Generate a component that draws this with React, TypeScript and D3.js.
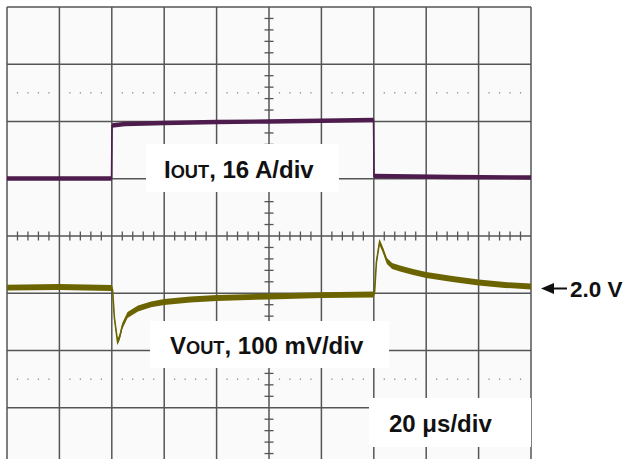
import React from "react";
import * as d3 from "d3";

// ---- data (time in µs, 20 µs/div) ----
const voutTime = [0, 20, 39.9, 40.3, 41, 42.2, 43, 44, 46, 50, 55, 60, 70, 80, 100, 120, 139.9, 140.3, 141, 142.2, 143.5, 145, 147, 150, 155, 160, 170, 180, 190, 200];
const voutVolts = [2.0017, 2.0026, 2.0009, 1.9974, 1.9485, 1.9066, 1.9153, 1.9345, 1.9537, 1.9651, 1.9721, 1.9764, 1.9808, 1.9834, 1.986, 1.9886, 1.9895, 1.9939, 2.0463, 2.0812, 2.0672, 2.048, 2.0393, 2.0349, 2.0288, 2.0236, 2.0166, 2.0105, 2.0061, 2.0035];

const ioutTime = [0, 39.9, 40.1, 45, 60, 80, 100, 120, 139.9, 140.1, 170, 200];
const ioutAmps = [16.07, 16.07, 30.88, 31.3, 31.58, 31.86, 32.0, 32.19, 32.42, 16.77, 16.49, 16.35];

const labelIout = { main: "I", sub: "OUT", rest: ", 16 A/div" };
const labelVout = { main: "V", sub: "OUT", rest: ", 100 mV/div" };
const labelTime = "20 μs/div";
const labelRef = "2.0 V";

const W = 626;
const H = 459;
const X0 = 7, X1 = 531, Y0 = 7, Y1 = 465;
const DIVX = (X1 - X0) / 10;
const DIVY = (Y1 - Y0) / 8;
const CX = X0 + 5 * DIVX;
const CY = Y0 + 4 * DIVY;

const refY = 288.5; // 2.0 V reference marker
const vTop = 2.0 + ((refY - Y0) / DIVY) * 0.1;
const vBot = 2.0 - ((Y1 - refY) / DIVY) * 0.1;

const x = d3.scaleLinear().domain([0, 200]).range([X0, X1]);
const yV = d3.scaleLinear().domain([vBot, vTop]).range([Y1, Y0]);
const yI = d3.scaleLinear().domain([-64, 64]).range([Y1, Y0]);

const FONT = "'Liberation Sans', Arial, Helvetica, sans-serif";
const GRID = "#555555";
const PURPLE = "#4e1d4e";
const OLIVE = "#6b6400";

function band(ts: number[], vs: number[], y: d3.ScaleLinear<number, number>, half: number) {
  const pts = ts.map((t, i) => [t, vs[i]] as [number, number]);
  const area = d3
    .area<[number, number]>()
    .x((d) => x(d[0]))
    .y0((d) => y(d[1]) - half)
    .y1((d) => y(d[1]) + half);
  const line = d3
    .line<[number, number]>()
    .x((d) => x(d[0]))
    .y((d) => y(d[1]));
  return { area: area(pts) || "", line: line(pts) || "" };
}

function Label({ lx, ly, size, l }: { lx: number; ly: number; size: number; l: { main: string; sub: string; rest: string } }) {
  return (
    <text x={lx} y={ly} fontFamily={FONT} fontWeight="bold" fontSize={size} fill="#111">
      {l.main}
      <tspan fontSize={size * 0.76}>{l.sub}</tspan>
      {l.rest}
    </text>
  );
}

export default function App() {
  const vt = band(voutTime, voutVolts, yV, 2.9);
  const it = band(ioutTime, ioutAmps, yI, 2.2);

  const vLines = d3.range(11).map((i) => X0 + i * DIVX);
  const hLines = d3.range(9).map((i) => Y0 + i * DIVY);
  const minorX = d3.range(51).map((i) => X0 + (i * DIVX) / 5).filter((_, i) => i % 5 !== 0);
  const minorY = d3.range(41).map((i) => Y0 + (i * DIVY) / 5).filter((_, i) => i % 5 !== 0);
  const dotRows = [CY - 2.5 * DIVY, CY + 2.5 * DIVY];

  const fs = 24;

  return (
    <svg width={W} height={H} style={{ position: "absolute", left: 0, top: 0, background: "#fff" }}>
      <rect x={X0} y={Y0} width={X1 - X0} height={Y1 - Y0} fill="#fafafa" />
      {/* dotted rows */}
      {dotRows.map((ry, r) =>
        minorX.map((mx, i) => <rect key={`d${r}-${i}`} x={mx - 0.6} y={ry - 0.6} width={1.2} height={1.2} fill="#777" />)
      )}
      {/* grid */}
      {vLines.map((vx, i) => (
        <line key={`v${i}`} x1={vx} x2={vx} y1={Y0} y2={Y1} stroke={GRID} strokeWidth={1.5} />
      ))}
      {hLines.map((hy, i) => (
        <line key={`h${i}`} x1={X0} x2={X1} y1={hy} y2={hy} stroke={GRID} strokeWidth={1.5} />
      ))}
      {/* center ticks */}
      {minorX.map((mx, i) => (
        <line key={`tx${i}`} x1={mx} x2={mx} y1={CY - 4.5} y2={CY + 4.5} stroke={GRID} strokeWidth={1.3} />
      ))}
      {minorY.map((my, i) => (
        <line key={`ty${i}`} x1={CX - 4.5} x2={CX + 4.5} y1={my} y2={my} stroke={GRID} strokeWidth={1.3} />
      ))}
      {/* traces */}
      <path d={it.area} fill={PURPLE} />
      <path d={it.line} fill="none" stroke={PURPLE} strokeWidth={1.6} />
      <path d={vt.area} fill={OLIVE} />
      <path d={vt.line} fill="none" stroke={OLIVE} strokeWidth={1.6} />
      {/* label boxes */}
      <rect x={146} y={144} width={193} height={48} fill="#fff" />
      <rect x={150} y={321} width={239} height={47} fill="#fff" />
      <rect x={369} y={398} width={162} height={49} fill="#fff" />
      <Label lx={164} ly={177.5} size={fs} l={labelIout} />
      <Label lx={170} ly={353.5} size={fs} l={labelVout} />
      <text x={389} y={432} fontFamily={FONT} fontWeight="bold" fontSize={fs} fill="#111">
        {labelTime}
      </text>
      {/* reference marker */}
      <path d={`M541,${refY} L554,${refY - 5.5} L554,${refY + 5.5} Z`} fill="#111" />
      <line x1={552} x2={567} y1={refY} y2={refY} stroke="#111" strokeWidth={2} />
      <text x={570} y={refY + 8} fontFamily={FONT} fontWeight="bold" fontSize={22.5} fill="#111">
        {labelRef}
      </text>
    </svg>
  );
}
